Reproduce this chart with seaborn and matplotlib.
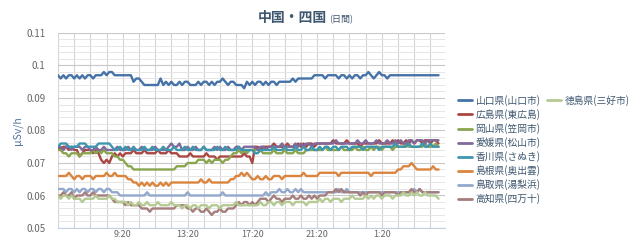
import matplotlib
matplotlib.use('Agg')
import numpy as np
import pandas as pd
import matplotlib.pyplot as plt
import seaborn as sns
from matplotlib.lines import Line2D
from matplotlib.ticker import MultipleLocator

# ---------------- data ----------------
sites = ['山口県(山口市)', '広島県(東広島)', '岡山県(笠岡市)', '愛媛県(松山市)', '香川県(さぬき)',
         '島根県(奥出雲)', '鳥取県(湯梨浜)', '高知県(四万十)', '徳島県(三好市)']
colors = ['#4572A7', '#AA4643', '#89A54E', '#80699B', '#3D96AE',
          '#DB843D', '#92A8CD', '#A47D7C', '#B5CA92']

xtick_hours = [4, 8, 12, 16, 20]
xtick_labels = ['9:20', '13:20', '17:20', '21:20', '1:20']
ytick_values = [0.05, 0.06, 0.07, 0.08, 0.09, 0.10, 0.11]
ytick_labels = ['0.05', '0.06', '0.07', '0.08', '0.09', '0.1', '0.11']

yamaguchi = [
    0.097, 0.096, 0.097, 0.096, 0.097, 0.097, 0.096, 0.097, 0.096, 0.097,
    0.096, 0.097, 0.097, 0.096, 0.097, 0.097, 0.097, 0.098, 0.097, 0.098,
    0.098, 0.097, 0.097, 0.097, 0.097, 0.097, 0.097, 0.097, 0.095, 0.096,
    0.096, 0.095, 0.094, 0.094, 0.094, 0.094, 0.094, 0.094, 0.096, 0.094,
    0.095, 0.094, 0.095, 0.094, 0.094, 0.095, 0.094, 0.095, 0.095, 0.094,
    0.094, 0.094, 0.095, 0.094, 0.095, 0.095, 0.094, 0.095, 0.094, 0.095,
    0.095, 0.096, 0.095, 0.094, 0.095, 0.095, 0.094, 0.094, 0.094, 0.093,
    0.095, 0.094, 0.095, 0.094, 0.095, 0.095, 0.094, 0.095, 0.094, 0.095,
    0.095, 0.094, 0.095, 0.095, 0.095, 0.095, 0.095, 0.096, 0.095, 0.096,
    0.096, 0.096, 0.096, 0.096, 0.096, 0.097, 0.097, 0.097, 0.097, 0.096,
    0.097, 0.097, 0.097, 0.097, 0.096, 0.097, 0.097, 0.096, 0.097, 0.096,
    0.097, 0.097, 0.096, 0.097, 0.097, 0.098, 0.097, 0.096, 0.097, 0.098,
    0.097, 0.097, 0.096, 0.097, 0.097, 0.097, 0.097, 0.097, 0.097, 0.097,
    0.097, 0.097, 0.097, 0.097, 0.097, 0.097, 0.097, 0.097, 0.097, 0.097,
    0.097, 0.097]

hiroshima = [
    0.075, 0.074, 0.075, 0.075, 0.074, 0.075, 0.074, 0.074, 0.072, 0.073,
    0.074, 0.074, 0.074, 0.073, 0.074, 0.073, 0.071, 0.070, 0.071, 0.070,
    0.072, 0.073, 0.072, 0.073, 0.072, 0.073, 0.073, 0.073, 0.074, 0.073,
    0.073, 0.073, 0.074, 0.073, 0.073, 0.073, 0.073, 0.074, 0.073, 0.073,
    0.073, 0.074, 0.073, 0.073, 0.073, 0.072, 0.072, 0.072, 0.072, 0.073,
    0.072, 0.072, 0.072, 0.072, 0.072, 0.073, 0.072, 0.072, 0.072, 0.071,
    0.072, 0.072, 0.072, 0.072, 0.072, 0.072, 0.072, 0.072, 0.072, 0.073,
    0.072, 0.072, 0.070, 0.075, 0.075, 0.074, 0.075, 0.075, 0.075, 0.075,
    0.076, 0.075, 0.075, 0.075, 0.075, 0.076, 0.075, 0.075, 0.075, 0.076,
    0.075, 0.076, 0.075, 0.076, 0.076, 0.075, 0.076, 0.076, 0.076, 0.076,
    0.076, 0.076, 0.077, 0.076, 0.076, 0.076, 0.076, 0.077, 0.076, 0.076,
    0.076, 0.076, 0.075, 0.076, 0.076, 0.076, 0.076, 0.076, 0.076, 0.077,
    0.076, 0.076, 0.076, 0.076, 0.077, 0.076, 0.077, 0.076, 0.076, 0.077,
    0.076, 0.077, 0.076, 0.077, 0.077, 0.076, 0.077, 0.077, 0.076, 0.077,
    0.077, 0.076]

okayama = [
    0.074, 0.074, 0.073, 0.073, 0.072, 0.073, 0.073, 0.073, 0.072, 0.073,
    0.073, 0.073, 0.073, 0.074, 0.073, 0.074, 0.073, 0.074, 0.073, 0.073,
    0.073, 0.072, 0.072, 0.071, 0.071, 0.070, 0.069, 0.069, 0.068, 0.068,
    0.068, 0.068, 0.068, 0.068, 0.068, 0.068, 0.068, 0.068, 0.068, 0.068,
    0.068, 0.068, 0.068, 0.068, 0.069, 0.069, 0.069, 0.069, 0.070, 0.070,
    0.070, 0.070, 0.071, 0.071, 0.071, 0.070, 0.071, 0.070, 0.071, 0.071,
    0.071, 0.070, 0.071, 0.071, 0.072, 0.073, 0.073, 0.074, 0.073, 0.074,
    0.073, 0.074, 0.074, 0.074, 0.074, 0.074, 0.073, 0.073, 0.073, 0.073,
    0.074, 0.073, 0.073, 0.073, 0.074, 0.073, 0.073, 0.073, 0.074, 0.073,
    0.073, 0.073, 0.074, 0.074, 0.074, 0.074, 0.074, 0.074, 0.074, 0.075,
    0.074, 0.074, 0.074, 0.074, 0.074, 0.075, 0.074, 0.074, 0.074, 0.074,
    0.075, 0.074, 0.074, 0.075, 0.074, 0.074, 0.075, 0.074, 0.075, 0.075,
    0.074, 0.075, 0.075, 0.075, 0.074, 0.075, 0.075, 0.075, 0.075, 0.076,
    0.075, 0.075, 0.075, 0.075, 0.075, 0.075, 0.076, 0.075, 0.075, 0.075,
    0.076, 0.075]

ehime = [
    0.075, 0.075, 0.074, 0.075, 0.075, 0.074, 0.075, 0.075, 0.075, 0.074,
    0.075, 0.075, 0.074, 0.074, 0.075, 0.074, 0.074, 0.075, 0.074, 0.074,
    0.074, 0.074, 0.075, 0.074, 0.074, 0.074, 0.075, 0.074, 0.074, 0.074,
    0.074, 0.075, 0.074, 0.074, 0.074, 0.074, 0.075, 0.074, 0.074, 0.074,
    0.074, 0.075, 0.076, 0.075, 0.075, 0.076, 0.074, 0.074, 0.075, 0.074,
    0.074, 0.075, 0.074, 0.074, 0.075, 0.074, 0.074, 0.074, 0.075, 0.074,
    0.075, 0.074, 0.074, 0.075, 0.074, 0.074, 0.075, 0.075, 0.074, 0.075,
    0.075, 0.075, 0.075, 0.075, 0.074, 0.075, 0.075, 0.074, 0.075, 0.075,
    0.075, 0.075, 0.075, 0.076, 0.075, 0.075, 0.075, 0.075, 0.076, 0.075,
    0.076, 0.075, 0.076, 0.076, 0.075, 0.076, 0.076, 0.076, 0.076, 0.076,
    0.076, 0.076, 0.076, 0.077, 0.076, 0.076, 0.076, 0.076, 0.076, 0.076,
    0.076, 0.077, 0.076, 0.076, 0.077, 0.076, 0.076, 0.076, 0.077, 0.076,
    0.076, 0.076, 0.077, 0.076, 0.076, 0.077, 0.076, 0.077, 0.076, 0.076,
    0.077, 0.077, 0.076, 0.077, 0.077, 0.077, 0.076, 0.077, 0.077, 0.077,
    0.077, 0.077]

kagawa = [
    0.075, 0.076, 0.076, 0.076, 0.075, 0.075, 0.075, 0.075, 0.076, 0.076,
    0.076, 0.075, 0.075, 0.075, 0.075, 0.076, 0.076, 0.076, 0.076, 0.076,
    0.075, 0.074, 0.074, 0.075, 0.074, 0.075, 0.074, 0.074, 0.075, 0.074,
    0.074, 0.074, 0.075, 0.074, 0.074, 0.075, 0.074, 0.074, 0.074, 0.075,
    0.074, 0.074, 0.074, 0.075, 0.074, 0.074, 0.074, 0.075, 0.074, 0.074,
    0.075, 0.074, 0.074, 0.074, 0.075, 0.074, 0.074, 0.074, 0.074, 0.075,
    0.074, 0.074, 0.075, 0.074, 0.074, 0.074, 0.074, 0.075, 0.074, 0.074,
    0.074, 0.074, 0.074, 0.073, 0.073, 0.074, 0.074, 0.074, 0.074, 0.074,
    0.075, 0.074, 0.074, 0.074, 0.075, 0.074, 0.074, 0.074, 0.075, 0.074,
    0.074, 0.075, 0.074, 0.074, 0.075, 0.074, 0.074, 0.075, 0.074, 0.075,
    0.075, 0.074, 0.075, 0.075, 0.074, 0.075, 0.075, 0.075, 0.074, 0.075,
    0.075, 0.075, 0.075, 0.074, 0.075, 0.075, 0.075, 0.075, 0.075, 0.074,
    0.075, 0.075, 0.075, 0.075, 0.075, 0.076, 0.075, 0.075, 0.075, 0.075,
    0.076, 0.075, 0.075, 0.075, 0.075, 0.076, 0.075, 0.075, 0.076, 0.075,
    0.075, 0.075]

shimane = [
    0.066, 0.066, 0.066, 0.066, 0.067, 0.066, 0.065, 0.066, 0.066, 0.065,
    0.066, 0.066, 0.066, 0.065, 0.066, 0.066, 0.066, 0.066, 0.067, 0.066,
    0.066, 0.067, 0.066, 0.066, 0.066, 0.066, 0.065, 0.065, 0.064, 0.064,
    0.063, 0.064, 0.063, 0.064, 0.063, 0.064, 0.063, 0.063, 0.064, 0.063,
    0.064, 0.063, 0.064, 0.064, 0.064, 0.064, 0.064, 0.064, 0.064, 0.064,
    0.064, 0.064, 0.064, 0.065, 0.064, 0.064, 0.065, 0.064, 0.064, 0.064,
    0.064, 0.064, 0.064, 0.064, 0.065, 0.065, 0.066, 0.066, 0.067, 0.066,
    0.067, 0.066, 0.065, 0.065, 0.066, 0.065, 0.065, 0.066, 0.065, 0.065,
    0.066, 0.066, 0.066, 0.065, 0.066, 0.066, 0.066, 0.066, 0.066, 0.066,
    0.066, 0.067, 0.066, 0.066, 0.066, 0.066, 0.066, 0.067, 0.067, 0.067,
    0.067, 0.067, 0.067, 0.067, 0.066, 0.067, 0.067, 0.067, 0.067, 0.067,
    0.067, 0.067, 0.067, 0.067, 0.067, 0.067, 0.066, 0.067, 0.067, 0.067,
    0.067, 0.067, 0.067, 0.067, 0.067, 0.067, 0.068, 0.068, 0.069, 0.069,
    0.069, 0.070, 0.069, 0.068, 0.068, 0.068, 0.068, 0.068, 0.068, 0.069,
    0.068, 0.068]

tottori = [
    0.062, 0.062, 0.062, 0.061, 0.062, 0.062, 0.061, 0.062, 0.061, 0.062,
    0.062, 0.061, 0.062, 0.062, 0.061, 0.062, 0.062, 0.061, 0.062, 0.062,
    0.061, 0.061, 0.061, 0.060, 0.060, 0.060, 0.060, 0.060, 0.060, 0.060,
    0.060, 0.060, 0.060, 0.061, 0.060, 0.060, 0.060, 0.060, 0.060, 0.060,
    0.060, 0.060, 0.060, 0.060, 0.060, 0.060, 0.060, 0.060, 0.061, 0.060,
    0.060, 0.060, 0.060, 0.060, 0.060, 0.060, 0.060, 0.060, 0.060, 0.060,
    0.060, 0.061, 0.060, 0.060, 0.060, 0.060, 0.060, 0.060, 0.060, 0.060,
    0.060, 0.060, 0.060, 0.060, 0.060, 0.060, 0.060, 0.061, 0.060, 0.061,
    0.061, 0.061, 0.062, 0.061, 0.061, 0.062, 0.061, 0.061, 0.062, 0.061,
    0.062, 0.061, 0.061, 0.061, 0.061, 0.061, 0.061, 0.061, 0.061, 0.061,
    0.061, 0.061, 0.061, 0.061, 0.062, 0.061, 0.061, 0.062, 0.061, 0.061,
    0.061, 0.061, 0.061, 0.061, 0.061, 0.061, 0.061, 0.061, 0.061, 0.061,
    0.061, 0.061, 0.061, 0.061, 0.061, 0.061, 0.061, 0.061, 0.061, 0.061,
    0.061, 0.061, 0.062, 0.061, 0.062, 0.061, 0.061, 0.061, 0.061, 0.061,
    0.061, 0.061]

kochi = [
    0.060, 0.060, 0.061, 0.060, 0.060, 0.061, 0.059, 0.060, 0.060, 0.060,
    0.061, 0.060, 0.060, 0.061, 0.060, 0.060, 0.060, 0.060, 0.060, 0.060,
    0.059, 0.058, 0.058, 0.058, 0.058, 0.057, 0.058, 0.057, 0.057, 0.057,
    0.057, 0.056, 0.056, 0.056, 0.055, 0.056, 0.056, 0.056, 0.056, 0.056,
    0.056, 0.056, 0.056, 0.056, 0.057, 0.057, 0.057, 0.057, 0.056, 0.056,
    0.055, 0.056, 0.056, 0.055, 0.055, 0.056, 0.055, 0.054, 0.055, 0.055,
    0.056, 0.055, 0.055, 0.056, 0.056, 0.056, 0.057, 0.058, 0.057, 0.058,
    0.058, 0.057, 0.058, 0.057, 0.058, 0.059, 0.059, 0.059, 0.058, 0.059,
    0.060, 0.059, 0.059, 0.058, 0.059, 0.059, 0.059, 0.060, 0.059, 0.059,
    0.060, 0.059, 0.059, 0.060, 0.059, 0.060, 0.059, 0.060, 0.060, 0.060,
    0.061, 0.061, 0.061, 0.062, 0.061, 0.062, 0.061, 0.061, 0.061, 0.061,
    0.061, 0.061, 0.060, 0.061, 0.060, 0.061, 0.061, 0.061, 0.061, 0.061,
    0.060, 0.061, 0.061, 0.061, 0.061, 0.061, 0.060, 0.061, 0.061, 0.061,
    0.061, 0.062, 0.061, 0.061, 0.062, 0.061, 0.061, 0.061, 0.061, 0.061,
    0.061, 0.061]

tokushima = [
    0.060, 0.059, 0.060, 0.060, 0.059, 0.060, 0.059, 0.059, 0.059, 0.058,
    0.059, 0.059, 0.059, 0.059, 0.060, 0.059, 0.059, 0.059, 0.059, 0.060,
    0.059, 0.059, 0.058, 0.058, 0.058, 0.058, 0.057, 0.058, 0.057, 0.057,
    0.058, 0.057, 0.057, 0.058, 0.057, 0.057, 0.057, 0.058, 0.057, 0.057,
    0.057, 0.057, 0.058, 0.057, 0.057, 0.057, 0.056, 0.057, 0.057, 0.056,
    0.057, 0.057, 0.056, 0.057, 0.057, 0.057, 0.056, 0.057, 0.057, 0.057,
    0.056, 0.057, 0.057, 0.057, 0.057, 0.057, 0.058, 0.057, 0.057, 0.057,
    0.057, 0.057, 0.057, 0.057, 0.057, 0.058, 0.057, 0.057, 0.058, 0.058,
    0.057, 0.058, 0.058, 0.057, 0.058, 0.058, 0.058, 0.057, 0.058, 0.058,
    0.058, 0.058, 0.057, 0.058, 0.058, 0.058, 0.058, 0.059, 0.058, 0.059,
    0.059, 0.058, 0.059, 0.059, 0.059, 0.058, 0.059, 0.059, 0.059, 0.060,
    0.059, 0.059, 0.059, 0.059, 0.060, 0.059, 0.060, 0.059, 0.060, 0.060,
    0.059, 0.060, 0.060, 0.060, 0.059, 0.060, 0.060, 0.060, 0.061, 0.060,
    0.060, 0.061, 0.060, 0.061, 0.060, 0.060, 0.061, 0.060, 0.060, 0.060,
    0.060, 0.059]

series = [yamaguchi, hiroshima, okayama, ehime, kagawa, shimane, tottori, kochi, tokushima]

# ---------------- build long table ----------------
frames = []
for name, vals in zip(sites, series):
    hours = np.arange(len(vals)) / 6.0   # 10-minute samples starting 5:20
    frames.append(pd.DataFrame({'hour': hours, 'value': vals, 'site': name}))
df = pd.concat(frames, ignore_index=True)

# ---------------- plot ----------------
sns.set_style('white')
plt.rcParams['font.family'] = ['Noto Sans CJK JP', 'DejaVu Sans']

fig = plt.figure(figsize=(6.4, 2.41), dpi=100)
ax = fig.add_axes([58 / 640, 1 - 228 / 241, (445 - 58) / 640, (228 - 33) / 241])

sns.lineplot(data=df, x='hour', y='value', hue='site', hue_order=sites,
             palette=colors, linewidth=1.7, estimator=None, legend=False, ax=ax)

ax.set_xlim(0, 23.9)
ax.set_ylim(0.05, 0.11)
ax.set_xticks(xtick_hours, labels=xtick_labels)
ax.xaxis.set_minor_locator(MultipleLocator(1))
ax.set_yticks(ytick_values, labels=ytick_labels)
ax.yaxis.set_minor_locator(MultipleLocator(0.002))

ax.set_axisbelow(True)
ax.grid(axis='x', which='both', color='#D4D4D4', linewidth=0.8)
ax.grid(axis='y', which='major', color='#C8C8C8', linewidth=0.8)
ax.grid(axis='y', which='minor', color='#E6E6E6', linewidth=0.7)

ax.tick_params(axis='both', which='both', length=0, labelsize=7, labelcolor='#666666')
ax.tick_params(axis='x', labelsize=6.5, pad=1.5)
ax.tick_params(axis='y', pad=9)
ax.set_xlabel('')
ax.set_ylabel('')
for side in ['top', 'right', 'left']:
    ax.spines[side].set_visible(False)
ax.spines['bottom'].set_color('#C0D0E0')
ax.spines['bottom'].set_linewidth(0.8)

fig.text(18 / 640, 1 - 131 / 241, 'μSv/h', rotation=90, color='#4D759E',
         fontsize=7.5, ha='center', va='center')

fig.text(327 / 640, 1 - 22 / 241, '中国・四国', ha='right', va='baseline',
         fontsize=10, fontweight='bold', color='#3E576F')
fig.text(329 / 640, 1 - 22 / 241, '(日間)', ha='left', va='baseline',
         fontsize=6.5, color='#3E576F')

handles = [Line2D([0], [0], color=c, lw=2) for c in colors]
leg_kw = dict(loc='upper left', frameon=False, fontsize=7, handlelength=1.4,
              handletextpad=0.4, labelspacing=0.32, borderpad=0, borderaxespad=0,
              labelcolor='#3E576F')
fig.legend(handles[:8], sites[:8], bbox_to_anchor=(458 / 640, 1 - 95 / 241), **leg_kw)
fig.legend(handles[8:], sites[8:], bbox_to_anchor=(547 / 640, 1 - 95 / 241), **leg_kw)

fig.savefig('out.png', dpi=100)
